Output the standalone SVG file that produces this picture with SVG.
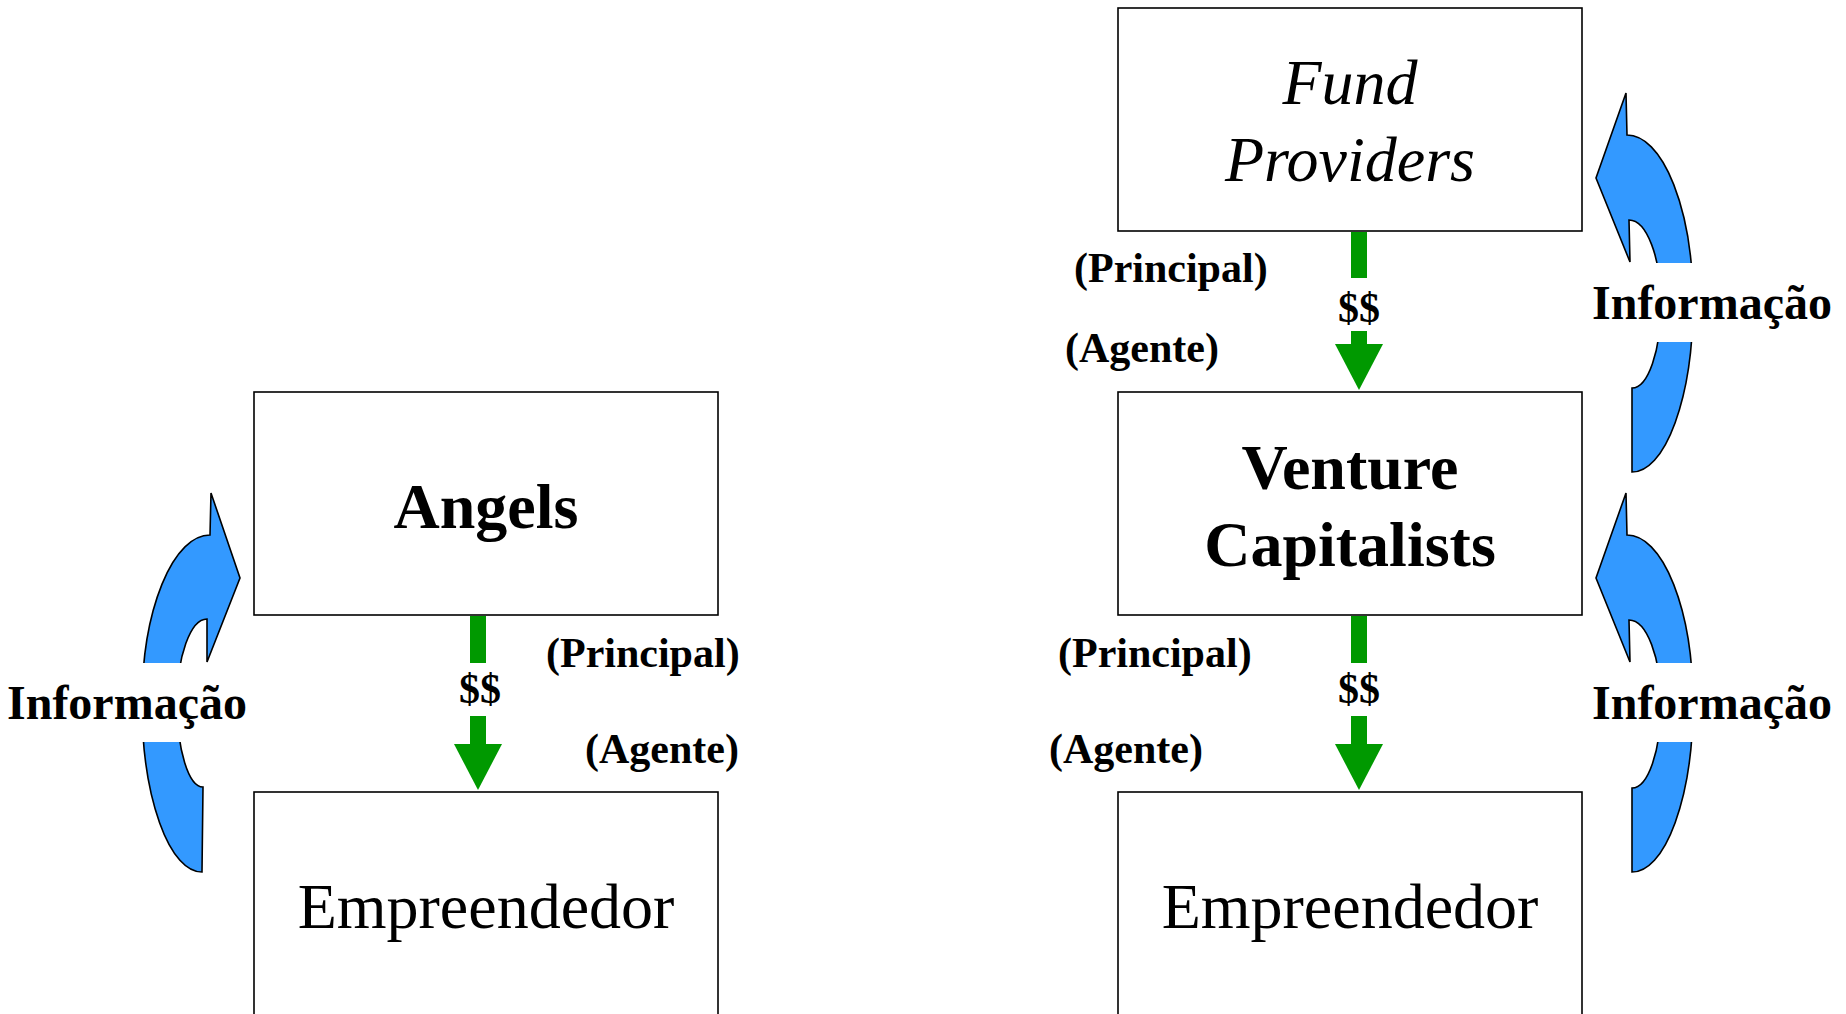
<svg xmlns="http://www.w3.org/2000/svg" width="1846" height="1014" viewBox="0 0 1846 1014">
<style>
.box{fill:#fff;stroke:#000;stroke-width:1.6}
.t{font-family:"Liberation Serif","Times New Roman",serif;fill:#000}
.node{font-size:64px;text-anchor:middle}
.b{font-weight:bold}
.i{font-style:italic}
.lbl{font-size:42px;font-weight:bold}
.info{font-size:48px;font-weight:bold}
.shaft{stroke:#009900;stroke-width:16;fill:none}
.curve{fill:#3399FF;stroke:#000;stroke-width:1.6;stroke-linejoin:miter}
.bg{fill:#fff}
</style>
<defs>
<marker id="head" markerUnits="userSpaceOnUse" viewBox="0 0 46 48" markerWidth="46" markerHeight="48" refX="0" refY="24" orient="auto">
<path d="M0,0 L46,24 L0,48 Z" fill="#009900"/>
</marker>
</defs>
<rect width="1846" height="1014" fill="#fff"/>

<g id="node-angels">
<rect class="box" x="254" y="392" width="464" height="223"/>
<text class="t node b" x="486" y="528">Angels</text>
</g>
<g id="node-empreendedor-left">
<rect class="box" x="254" y="792" width="464" height="240"/>
<text class="t node" x="486" y="928">Empreendedor</text>
</g>
<g id="node-fund-providers">
<rect class="box" x="1118" y="8" width="464" height="223"/>
<text class="t node i" x="1350" y="104">Fund</text>
<text class="t node i" x="1350" y="181">Providers</text>
</g>
<g id="node-venture-capitalists">
<rect class="box" x="1118" y="392" width="464" height="223"/>
<text class="t node b" x="1350" y="489">Venture</text>
<text class="t node b" x="1350" y="566">Capitalists</text>
</g>
<g id="node-empreendedor-right">
<rect class="box" x="1118" y="792" width="464" height="240"/>
<text class="t node" x="1350" y="928">Empreendedor</text>
</g>

<g id="connectors">
<!-- money arrows -->
<path class="shaft" d="M478,616 L478,744" marker-end="url(#head)"/>
<rect class="bg" x="458" y="663" width="44" height="53"/>
<text class="t lbl" x="480" y="703" text-anchor="middle">$$</text>

<path class="shaft" d="M1359,232 L1359,344" marker-end="url(#head)"/>
<rect class="bg" x="1337" y="278" width="44" height="53"/>
<text class="t lbl" x="1359" y="322" text-anchor="middle">$$</text>

<path class="shaft" d="M1359,616 L1359,744" marker-end="url(#head)"/>
<rect class="bg" x="1337" y="663" width="44" height="53"/>
<text class="t lbl" x="1359" y="703" text-anchor="middle">$$</text>

<!-- information curved arrows -->
<path class="curve" d="M202,872 A60 168.5 0 0 1 142,703.5 A68 168.5 0 0 1 210,535 L211,493 L240,578 L207,662 L207,619 A30 84 0 0 0 177,703 A26 84 0 0 0 203,787 Z"/>
<rect class="bg" x="4" y="663" width="244" height="79"/>
<text class="t info" x="7" y="719">Informação</text>

<path class="curve" d="M1627,135 A66 168.5 0 0 1 1693,303.5 A61 168.5 0 0 1 1632,472 L1632,388 A29 84 0 0 0 1661,304 A32 84 0 0 0 1629,220 L1630,262 L1596,178 L1626,93 Z"/>
<rect class="bg" x="1589" y="263" width="244" height="79"/>
<text class="t info" x="1592" y="319">Informação</text>

<path class="curve" d="M1627,535 A66 168.5 0 0 1 1693,703.5 A61 168.5 0 0 1 1632,872 L1632,788 A29 84 0 0 0 1661,704 A32 84 0 0 0 1629,620 L1630,662 L1596,578 L1626,493 Z"/>
<rect class="bg" x="1589" y="663" width="244" height="79"/>
<text class="t info" x="1592" y="719">Informação</text>
</g>

<g id="labels">
<text class="t lbl" x="546" y="667">(Principal)</text>
<text class="t lbl" x="585" y="763">(Agente)</text>
<text class="t lbl" x="1074" y="282">(Principal)</text>
<text class="t lbl" x="1065" y="362">(Agente)</text>
<text class="t lbl" x="1058" y="667">(Principal)</text>
<text class="t lbl" x="1049" y="763">(Agente)</text>
</g>
</svg>
